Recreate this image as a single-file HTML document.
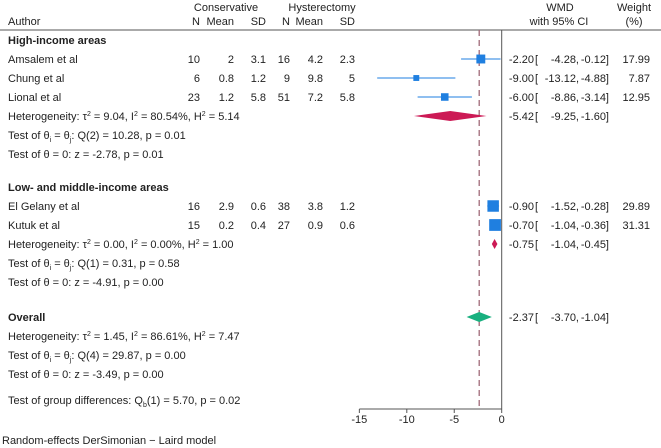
<!DOCTYPE html>
<html><head><meta charset="utf-8"><style>
body{margin:0;background:#fff}
svg{display:block;font-family:"Liberation Sans",Arial,sans-serif;font-size:11px;fill:#222}
</style></head><body>
<svg id="c" width="661" height="448"></svg>
<script>
const studies=["Amsalem et al","Chung et al","Lional et al","El Gelany et al","Kutuk et al"];
const consN=[10,6,23,16,15];
const consMean=["2","0.8","1.2","2.9","0.2"];
const consSD=["3.1","1.2","5.8","0.6","0.4"];
const hystN=[16,9,51,38,27];
const hystMean=["4.2","9.8","7.2","3.8","0.9"];
const hystSD=["2.3","5","5.8","1.2","0.6"];
const est=[-2.20,-9.00,-6.00,-0.90,-0.70];
const lo=[-4.28,-13.12,-8.86,-1.52,-1.04];
const hi=[-0.12,-4.88,-3.14,-0.28,-0.36];
const weights=[17.99,7.87,12.95,29.89,31.31];
const studyRows=[59,78,97,206,225];
const pooledEst=[-5.42,-0.75,-2.37];
const pooledLo=[-9.25,-1.04,-3.70];
const pooledHi=[-1.60,-0.45,-1.04];
const pooledRows=[116,244,317];
const pooledColors=["#cc1a55","#cc1a55","#19b07f"];
const ticks=[-15,-10,-5,0];
const overall=-2.37;

const svg=document.getElementById('c');
const NS="http://www.w3.org/2000/svg";
const x=v=>501.7+v*9.49;
function el(tag,attrs,name,text){const e=document.createElementNS(NS,tag);for(const k in attrs)e.setAttribute(k,attrs[k]);


if(text!==undefined)e.textContent=text;svg.appendChild(e);return e;}
function t(xx,y,s,name,anchor,bold){const a={x:xx,y:y+4};if(anchor)a['text-anchor']=anchor;if(bold)a['font-weight']='bold';return el('text',a,name,s);}
function sub(xx,y,parts,name){const e=el('text',{x:xx,y:y+4},name);e.innerHTML=parts;return e;}

t(226,7,"Conservative","header-conservative","middle");
t(322,7,"Hysterectomy","header-hysterectomy","middle");
t(560,7,"WMD","header-wmd","middle");
t(634,7,"Weight","header-weight","middle");
t(8,21,"Author","header-author");
t(200,21,"N","header-cons-n","end");t(234,21,"Mean","header-cons-mean","end");t(266,21,"SD","header-cons-sd","end");
t(290,21,"N","header-hyst-n","end");t(323,21,"Mean","header-hyst-mean","end");t(355,21,"SD","header-hyst-sd","end");
t(559,21,"with 95% CI","header-ci","middle");t(634,21,"(%)","header-weight-unit","middle");
el('line',{x1:0,y1:30,x2:661,y2:30,stroke:'#555','stroke-width':1},'header-rule');

el('line',{x1:x(0),y1:30,x2:x(0),y2:409,stroke:'#555','stroke-width':1},'zero-line');
el('line',{x1:x(overall),y1:30,x2:x(overall),y2:409,stroke:'#a06a78','stroke-width':1.3,'stroke-dasharray':'6,4'},'overall-effect-line');

t(8,40,"High-income areas","group-high-income",null,true);
t(8,187,"Low- and middle-income areas","group-low-middle-income",null,true);
t(8,317,"Overall","overall-label",null,true);

const f=v=>v.toFixed(2);
function ci(y,e,l,h,pre){
t(534,y,f(e),pre+'estimate','end');
t(535,y,"[",pre+'bracket-open');
t(579,y,f(l)+",",pre+'ci-lower','end');
t(609,y,f(h)+"]",pre+'ci-upper','end');
}
studies.forEach((s,i)=>{const y=studyRows[i];
t(8,y,s,'study-name');
t(200,y,consN[i],'cons-n','end');t(234,y,consMean[i],'cons-mean','end');t(266,y,consSD[i],'cons-sd','end');
t(290,y,hystN[i],'hyst-n','end');t(323,y,hystMean[i],'hyst-mean','end');t(355,y,hystSD[i],'hyst-sd','end');
el('line',{x1:x(lo[i]),y1:y,x2:x(hi[i]),y2:y,stroke:'#1f7fe0','stroke-width':1},'ci-line');
const sz=Math.sqrt(weights[i])*2.1;
el('rect',{x:x(est[i])-sz/2,y:y-sz/2,width:sz,height:sz,fill:'#1f7fe0'},'study-square');
ci(y,est[i],lo[i],hi[i],'study-');
t(650,y,f(weights[i]),'weight-value','end');
});
pooledEst.forEach((v,i)=>{const y=pooledRows[i];
el('polygon',{points:`${x(pooledLo[i])},${y} ${x(v)},${y-5} ${x(pooledHi[i])},${y} ${x(v)},${y+5}`,fill:pooledColors[i]},'pooled-diamond');
ci(y,v,pooledLo[i],pooledHi[i],'pooled-');
});

const het=[[116,"9.04","80.54%","5.14","2","10.28","0.01","-2.78","0.01"],[244,"0.00","0.00%","1.00","1","0.31","0.58","-4.91","0.00"],[336,"1.45","86.61%","7.47","4","29.87","0.00","-3.49","0.00"]];
het.forEach(h=>{const y=h[0];
sub(8,y,`Heterogeneity: τ<tspan dy="-4" font-size="7">2</tspan><tspan dy="4"> = ${h[1]}, I</tspan><tspan dy="-4" font-size="7">2</tspan><tspan dy="4"> = ${h[2]}, H</tspan><tspan dy="-4" font-size="7">2</tspan><tspan dy="4"> = ${h[3]}</tspan>`,'heterogeneity-stats');
sub(8,y+19,`Test of θ<tspan dy="3" font-size="7">i</tspan><tspan dy="-3"> = θ</tspan><tspan dy="3" font-size="7">j</tspan><tspan dy="-3">: Q(${h[4]}) = ${h[5]}, p = ${h[6]}</tspan>`,'homogeneity-test');
t(8,y+38,`Test of θ = 0: z = ${h[7]}, p = ${h[8]}`,'effect-test');
});
sub(8,400,`Test of group differences: Q<tspan dy="3" font-size="7">b</tspan><tspan dy="-3">(1) = 5.70, p = 0.02</tspan>`,'group-difference-test');

el('line',{x1:x(-15),y1:409,x2:x(0),y2:409,stroke:'#555','stroke-width':1},'x-axis');
ticks.forEach(v=>{el('line',{x1:x(v),y1:409,x2:x(v),y2:413,stroke:'#555'},'x-tick');
t(x(v),419,String(v),'x-tick-label','middle');});
t(2,440,"Random-effects DerSimonian − Laird model",'model-note');
</script>
</body></html>
